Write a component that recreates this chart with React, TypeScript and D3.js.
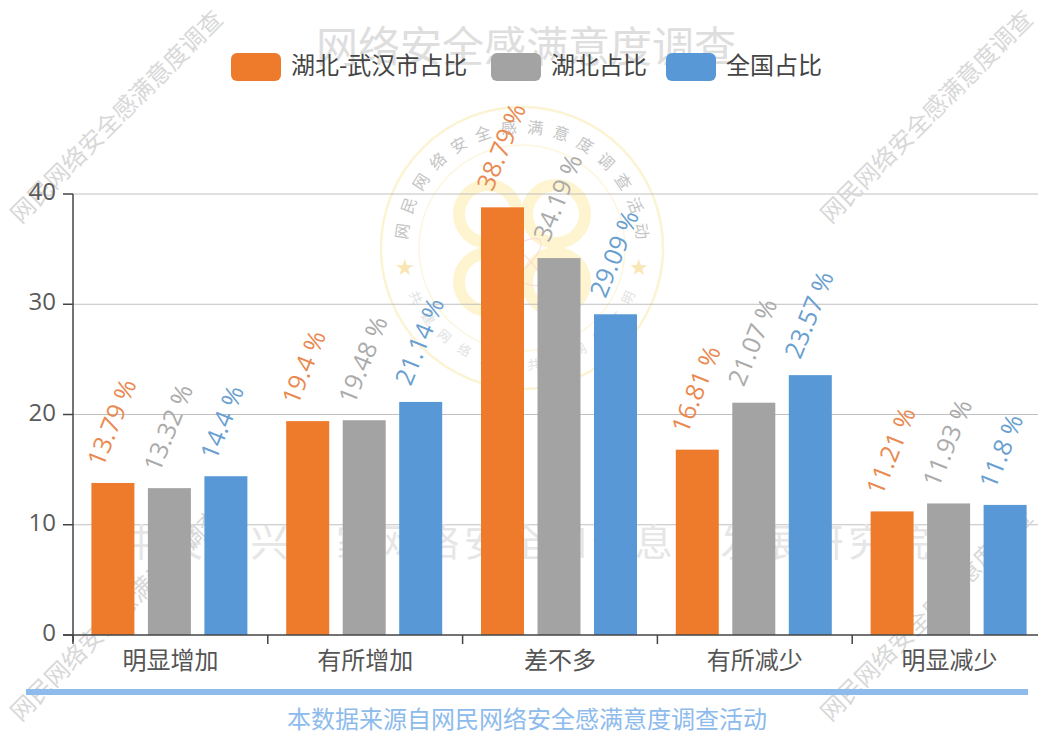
import React from "react";
import * as d3 from "d3";

const categories = ["明显增加", "有所增加", "差不多", "有所减少", "明显减少"];
const seriesNames = ["湖北-武汉市占比", "湖北占比", "全国占比"];
const wuhan = [13.79, 19.4, 38.79, 16.81, 11.21];
const hubei = [13.32, 19.48, 34.19, 21.07, 11.93];
const national = [14.4, 21.14, 29.09, 23.57, 11.8];
const colors = ["#ee7b2c", "#a3a3a3", "#5898d6"];
const labelColors = ["#e98a52", "#ababab", "#6a9fd0"];
const yTicks = [0, 10, 20, 30, 40];
const title = "网络安全感满意度调查";
const source = "本数据来源自网民网络安全感满意度调查活动";
const wmBottom = "中关村兴业家网络安全和信息化发展研究院";
const wmDiag = "网民网络安全感满意度调查";
const stampText = "网民网络安全感满意度调查活动";
// The stamp's lower arc is barely legible in the reference: best guess.
const stampLower = "共建网络安全共享网络文明";

const FONT = "'Noto Sans CJK SC', sans-serif";
const LATIN = "'Open Sans', 'Noto Sans CJK SC', sans-serif";

export default function App() {
  const x = d3.scaleBand().domain(categories).range([73, 1047]);
  const y = d3.scaleLinear().domain([0, 40]).range([635, 194]);
  const groups = [wuhan, hubei, national];
  const offsets = [-56.5, 0, 56.5];
  const barW = 43;
  const ticks = d3.range(0, categories.length + 1).map((i) => 73 + i * x.bandwidth());

  return (
    <svg width={1038} height={731} style={{ position: "absolute", left: 0, top: 0, background: "#fff" }}>
      {/* Stamp */}
      <g transform="translate(522,248)">
        <circle r={141} fill="none" stroke="#fbf3d2" strokeWidth={2.5} />
        <circle r={103} fill="none" stroke="#fcf6de" strokeWidth={1.5} />
        {[-34, 34].map((dx) =>
          [-34, 34].map((dy) => (
            <circle key={`${dx}${dy}`} cx={dx} cy={dy} r={29} fill="none" stroke="#fef4cf" strokeWidth={12} />
          ))
        )}
        <ellipse rx={34} ry={12} transform="translate(-8,14) rotate(40)" fill="none" stroke="#f8dcd6" strokeWidth={1} />
        <ellipse rx={34} ry={12} transform="translate(-8,14) rotate(-40)" fill="none" stroke="#f8dcd6" strokeWidth={1} />
        {Array.from(stampText).map((c, i) => {
          const a = -82 + i * (164 / (stampText.length - 1));
          return (
            <text key={i} transform={`rotate(${a}) translate(0,-115)`} textAnchor="middle" fontSize={16} fill="#c4c4c4" fontFamily={FONT}>{c}</text>
          );
        })}
        {Array.from(stampLower).map((c, i) => {
          const a = -65 + i * (130 / (stampLower.length - 1));
          return (
            <text key={i} transform={`rotate(${-a}) translate(0,122)`} textAnchor="middle" fontSize={13} fill="#e2e2e2" fontFamily={FONT}>{c}</text>
          );
        })}
        {[-117, 117].map((dx) => (
          <text key={dx} x={dx} y={27} textAnchor="middle" fontSize={22} fill="#fae6b4">★</text>
        ))}
      </g>
      {/* Grid */}
      {yTicks.slice(1).map((t) => (
        <line key={t} x1={73} x2={1038} y1={y(t)} y2={y(t)} stroke="#c0c0c0" strokeWidth={1} />
      ))}
      {/* Bottom watermark */}
      <text x={528} y={556} textAnchor="middle" fontSize={38} letterSpacing={4.7} fill="#e6e6e6" fontFamily={FONT}>{wmBottom}</text>
      {/* Title */}
      <text x={526} y={62} textAnchor="middle" fontSize={42} fill="#dedede" fontFamily={FONT}>{title}</text>
      {/* Diagonal watermarks */}
      {[[118, 118], [928, 118], [118, 616], [928, 616]].map(([cx, cy], i) => (
        <text key={i} transform={`translate(${cx},${cy}) rotate(-45)`} textAnchor="middle" dominantBaseline="middle" fontSize={24} fill="#d8d8d8" fontFamily={FONT}>{wmDiag}</text>
      ))}
      {/* Legend */}
      {seriesNames.map((n, i) => {
        const lx = [231, 491, 666][i];
        return (
          <g key={n}>
            <rect x={lx} y={53} width={50} height={28} rx={6} fill={colors[i]} />
            <text x={lx + 60} y={74} fontSize={24} fill="#444" fontFamily={FONT}>{n}</text>
          </g>
        );
      })}
      {/* Bars */}
      {groups.map((vals, s) =>
        vals.map((v, i) => {
          const cx = x(categories[i])! + x.bandwidth() / 2 + offsets[s] - 1;
          const top = y(v);
          return (
            <g key={`${s}-${i}`}>
              <rect x={cx - barW / 2} y={top} width={barW} height={y(0) - top} fill={colors[s]} />
              <text transform={`translate(${cx - 10},${top - 15}) rotate(-68)`} fontSize={25} fill={labelColors[s]} fontFamily={LATIN}>{`${v} %`}</text>
            </g>
          );
        })
      )}
      {/* Axes */}
      <line x1={73} x2={73} y1={194} y2={642} stroke="#444" strokeWidth={1.5} />
      <line x1={63} x2={1038} y1={635} y2={635} stroke="#444" strokeWidth={1.5} />
      {yTicks.map((t) => (
        <g key={t}>
          <line x1={63} x2={73} y1={y(t)} y2={y(t)} stroke="#444" strokeWidth={1.5} />
          <text x={56} y={y(t) + 6} textAnchor="end" fontSize={24} fill="#5a5a5a" fontFamily={LATIN}>{t}</text>
        </g>
      ))}
      {ticks.map((t, i) => (
        <line key={i} x1={t} x2={t} y1={635} y2={644} stroke="#444" strokeWidth={1.5} />
      ))}
      {categories.map((c) => (
        <text key={c} x={x(c)! + x.bandwidth() / 2} y={669} textAnchor="middle" fontSize={24} fill="#555" fontFamily={FONT}>{c}</text>
      ))}
      {/* Footer */}
      <line x1={26} x2={1028} y1={692} y2={692} stroke="#8dbbec" strokeWidth={6} />
      <text x={527} y={728} textAnchor="middle" fontSize={24} fill="#8dbbec" fontFamily={FONT}>{source}</text>
    </svg>
  );
}
